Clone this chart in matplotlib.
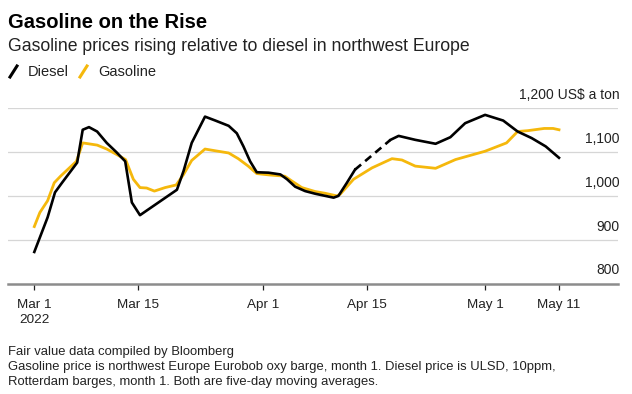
import numpy as np
import pandas as pd
import matplotlib
matplotlib.use("Agg")
import matplotlib.pyplot as plt
from matplotlib.lines import Line2D

plt.rcParams["font.family"] = ["Liberation Sans", "DejaVu Sans"]

START = pd.Timestamp("2022-03-01")

# days after Mar 1 2022, US$ a ton (five-day moving averages)
diesel_day = [0, 1.8, 2.8, 3.75, 5.8, 6.55, 7.4, 8.5, 9.8, 11.1, 12.3, 13.2,
              14.3, 19.3, 20.2, 21.3, 22.2, 23.1, 24.5, 26.3, 27.4, 28.3,
              29.2, 30.1, 31.7, 33.3, 34.2, 35.3, 36.65, 38.0, 40.5, 41.15,
              42.3, 43.4, 48.2, 49.3, 51.55, 54.3, 56.3, 58.3, 61.0, 63.45,
              65.4, 67.3, 69.2, 71.0]
diesel_px = [872, 951, 1008, 1030, 1076, 1151, 1157, 1147, 1121, 1100, 1079, 985,
             956, 1014, 1057, 1121, 1151, 1181, 1172, 1160, 1143, 1113,
             1079, 1054, 1053, 1049, 1038, 1021, 1011, 1005, 996, 1000,
             1030, 1060, 1128, 1137, 1128, 1119, 1134, 1166, 1185, 1172,
             1147, 1132, 1113, 1087]
# no diesel data between these days, line is dashed there
diesel_gap = (43.4, 48.2)

gasoline_day = [0, 0.75, 1.8, 2.7, 3.55, 5.7, 6.55, 8.5, 9.8, 11.1, 12.35, 13.4,
                14.3, 15.2, 16.25, 17.7, 19.2, 20.2, 21.3, 23.1, 24.5, 26.3,
                27.6, 28.95, 30.1, 31.7, 33.9, 34.85, 36.2, 38.0, 39.35, 40.95,
                41.4, 43.2, 45.7, 48.4, 49.75, 51.55, 54.3, 57.0, 61.0, 63.9,
                65.4, 66.8, 69.0, 70.2, 71.0]
gasoline_px = [930, 962, 989, 1030, 1045, 1079, 1121, 1116, 1107, 1095, 1083, 1038,
               1019, 1018, 1011, 1019, 1025, 1049, 1081, 1107, 1103, 1098,
               1085, 1068, 1051, 1048, 1045, 1034, 1019, 1010, 1006, 1000,
               1004, 1038, 1064, 1085, 1082, 1068, 1063, 1083, 1102, 1121,
               1147, 1149, 1154, 1154, 1151]

tick_dates = ["2022-03-01", "2022-03-15", "2022-04-01", "2022-04-15",
              "2022-05-01", "2022-05-11"]
tick_labels = ["Mar 1\n2022", "Mar 15", "Apr 1", "Apr 15", "May 1", "May 11"]
y_ticks = [800, 900, 1000, 1100, 1200]
y_labels = ["800", "900", "1,000", "1,100", "1,200 US$ a ton"]

DIESEL = "#000000"
GAS = "#f5b80c"
W, H = 632, 394


def to_dates(days):
    return START + pd.to_timedelta(np.asarray(days, float), unit="D")


fig = plt.figure(figsize=(W / 100, H / 100), dpi=100)
ax = fig.add_axes([8 / W, 1 - 283.5 / H, 610 / W, 175.2 / H])

d_day = np.array(diesel_day)
d_px = np.array(diesel_px)
before = d_day <= diesel_gap[0]
after = d_day >= diesel_gap[1]
inside = (d_day >= diesel_gap[0]) & (d_day <= diesel_gap[1])

ax.plot(to_dates(gasoline_day), gasoline_px, color=GAS, lw=2.0,
        solid_joinstyle="round", zorder=3)
ax.plot(to_dates(d_day[before]), d_px[before], color=DIESEL, lw=1.9,
        solid_joinstyle="round", zorder=4)
ax.plot(to_dates(d_day[after]), d_px[after], color=DIESEL, lw=1.9,
        solid_joinstyle="round", zorder=4)
ax.plot(to_dates(d_day[inside]), d_px[inside], color=DIESEL, lw=1.9,
        ls=(0, (3, 2)), zorder=4)

# x range: Mar 1 sits ~26 px in from the left edge
px_per_day = (559 - 34.3) / 71
ax.set_xlim(to_dates([-26.3 / px_per_day])[0],
            to_dates([(610 - 26.3) / px_per_day])[0])
ax.set_ylim(800, 1200)

for v in y_ticks[1:]:
    ax.axhline(v, color="#d6d6d6", lw=0.9, zorder=1)
for v, lab in zip(y_ticks, y_labels):
    ax.annotate(lab, xy=(1.0, v), xycoords=("axes fraction", "data"),
                xytext=(1, 6.5), textcoords="offset points",
                ha="right", va="baseline", fontsize=10, color="#222222")

ax.set_xticks(pd.to_datetime(tick_dates))
ax.set_xticklabels(tick_labels, fontsize=9.7, color="#222222", linespacing=1.35)
for lab in ax.get_xticklabels():
    lab.set_verticalalignment("top")
ax.tick_params(axis="x", length=4, width=0.9, color="#222222", pad=7)
ax.set_yticks([])

for s in ["top", "right", "left"]:
    ax.spines[s].set_visible(False)
ax.spines["bottom"].set_color("#8c8c8c")
ax.spines["bottom"].set_linewidth(1.8)


def ftext(x, y, s, **kw):
    fig.text(x / W, 1 - y / H, s, va="baseline", ha="left", **kw)


ftext(8, 28, "Gasoline on the Rise", fontsize=14.5, fontweight="bold")
ftext(8, 51, "Gasoline prices rising relative to diesel in northwest Europe",
      fontsize=12.7, color="#222222")

# legend: short slashes
for x0, col in [(10, DIESEL), (80, GAS)]:
    fig.add_artist(Line2D([x0 / W, (x0 + 7) / W], [1 - 77 / H, 1 - 66 / H],
                          color=col, lw=2.2, transform=fig.transFigure))
ftext(28, 76, "Diesel", fontsize=10.5, color="#222222")
ftext(98, 76, "Gasoline", fontsize=10.5, color="#222222")

ftext(8, 355, "Fair value data compiled by Bloomberg", fontsize=9.4, color="#222222")
ftext(8, 370, "Gasoline price is northwest Europe Eurobob oxy barge, month 1. "
              "Diesel price is ULSD, 10ppm,", fontsize=9.4, color="#222222")
ftext(8, 385, "Rotterdam barges, month 1. Both are five-day moving averages.",
      fontsize=9.4, color="#222222")

fig.savefig("out.png", dpi=100, facecolor="white")
